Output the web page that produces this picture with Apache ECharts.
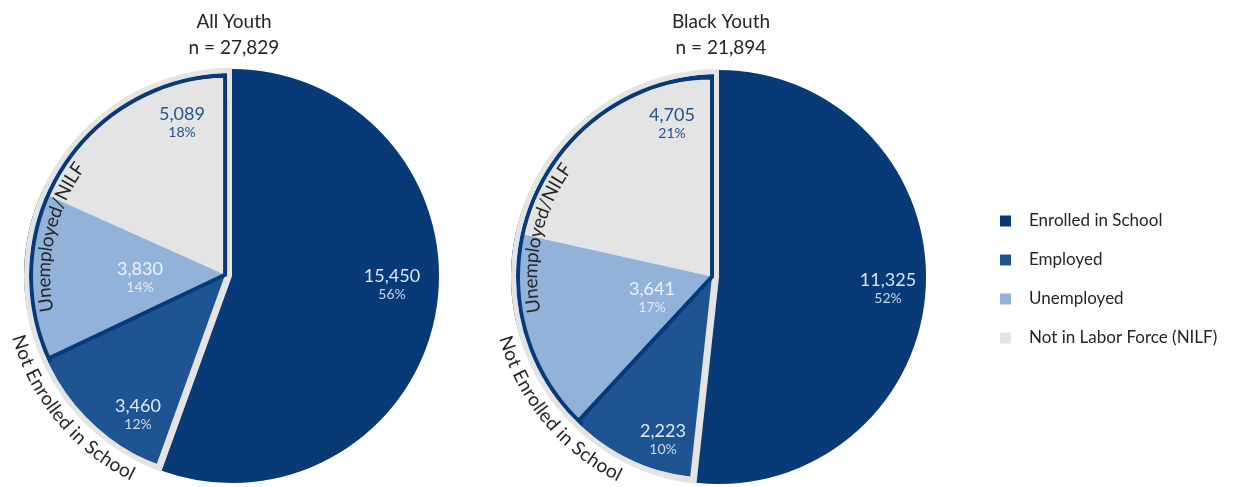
<!DOCTYPE html>
<html>
<head>
<meta charset="utf-8">
<script src="https://cdn.jsdelivr.net/npm/echarts@6/dist/echarts.min.js"></script>
<style>
  html, body { margin: 0; padding: 0; background: #ffffff; }
  #chart { width: 1250px; height: 487px; }
</style>
</head>
<body>
<div id="chart"></div>
<script>
// Youth by school enrolment and labour-force status
const categories = ['Enrolled in School', 'Employed', 'Unemployed', 'Not in Labor Force (NILF)'];
const panelTitles = ['All Youth', 'Black Youth'];
const allYouth = [15450, 3460, 3830, 5089];
const blackYouth = [11325, 2223, 3641, 4705];
const innerGroupLabel = 'Unemployed/NILF';
const outerGroupLabel = 'Not Enrolled in School';

// styling
const FONT = 'Lato, "Open Sans", sans-serif';
const COLORS = ['#083a78', '#1e5491', '#93b2d9', '#e4e4e4'];
const GROUP_BORDER = '#083a78';
const RING = '#e4e4e4';
const TEXT = '#262626';
const LABEL_COLORS = [
  ['#dde4ef', '#c9d4e5'],
  ['#e2e8f1', '#d0d9e8'],
  ['#eef2f8', '#e3e9f3'],
  ['#24538f', '#24538f']
];

// geometry of each pie
const R = 207;          // radius of the enrolled slice
const RING_W = 5;       // light ring around the not-enrolled group
const BORDER_W = 4;     // dark outline of the unemployed/NILF group
const INSET = 7;        // how far the not-enrolled pieces sit inside their wedge

const panels = [
  { title: panelTitles[0], values: allYouth, center: [232, 276],
    labelAt: [[160, 8], [-94, 138], [-92, 1.5], [-50, -153.5]] },
  { title: panelTitles[1], values: blackYouth, center: [719, 277],
    labelAt: [[169, 11.5], [-56, 162.5], [-67, 20.5], [-47, -154]] }
];

const fmt = v => v.toLocaleString('en-US');
const clear = v => ({ value: v, name: '', itemStyle: { color: 'rgba(0,0,0,0)', borderWidth: 0 }, label: { show: false } });

function sliceLabel(i) {
  return {
    show: true,
    position: 'inside',
    formatter: p => `{v|${fmt(p.value)}}\n{p|${Math.round(p.percent)}%}`,
    rich: {
      v: { fontFamily: FONT, fontSize: 18, lineHeight: 20, color: LABEL_COLORS[i][0], align: 'center' },
      p: { fontFamily: FONT, fontSize: 14, lineHeight: 16, color: LABEL_COLORS[i][1], align: 'center' }
    }
  };
}

function pieBase(extra) {
  return Object.assign({
    type: 'pie', silent: true, animation: false,
    startAngle: 90, clockwise: true, avoidLabelOverlap: false,
    label: { show: false }, labelLine: { show: false },
    emphasis: { disabled: true },
    itemStyle: { borderWidth: 0 }
  }, extra);
}

function panelSeries(p) {
  const [E, Em, U, N] = p.values;
  const T = E + Em + U + N;
  const G = T - E;
  const [cx, cy] = p.center;
  const Rg = R + 1;
  // direction of the middle of the not-enrolled wedge
  const mid = (90 + 180 * G / T) * Math.PI / 180;
  const inner = [cx + INSET * Math.cos(mid), cy - INSET * Math.sin(mid)];
  const layoutAt = params => {
    const off = p.labelAt[params.dataIndex];
    return { x: cx + off[0], y: cy + off[1], align: 'center', verticalAlign: 'middle' };
  };

  return [
    // light backdrop of the not-enrolled wedge
    pieBase({ z: 1, center: [cx, cy], radius: Rg,
      data: [clear(E), { value: G, name: '', itemStyle: { color: RING } }] }),
    // employed / unemployed / NILF pieces
    pieBase({ z: 2, center: inner, radius: Rg - INSET,
      labelLayout: layoutAt,
      data: [
        clear(E),
        { value: Em, name: categories[1], itemStyle: { color: COLORS[1] }, label: sliceLabel(1) },
        { value: U, name: categories[2], itemStyle: { color: COLORS[2] }, label: sliceLabel(2) },
        { value: N, name: categories[3], itemStyle: { color: COLORS[3] }, label: sliceLabel(3) }
      ] }),
    // outline of the unemployed + NILF group (straight edges)
    pieBase({ z: 3, center: inner, radius: Rg - INSET - 2,
      data: [clear(E), clear(Em),
        { value: U + N, name: '', itemStyle: { color: 'rgba(0,0,0,0)', borderColor: GROUP_BORDER, borderWidth: BORDER_W, borderJoin: 'miter' } }] }),
    // outline of the unemployed + NILF group (curved edge)
    pieBase({ z: 4, center: [cx, cy], radius: [Rg - RING_W - BORDER_W, Rg - RING_W],
      data: [clear(E), clear(Em), { value: U + N, name: '', itemStyle: { color: GROUP_BORDER } }] }),
    // light ring around the not-enrolled wedge
    pieBase({ z: 5, center: [cx, cy], radius: [Rg - RING_W, Rg],
      data: [clear(E), { value: G, name: '', itemStyle: { color: RING } }] }),
    // light gap along the straight edges of the enrolled slice
    pieBase({ z: 6, center: [cx, cy], radius: [R - 27, R - 5],
      data: [
        { value: E, name: '', itemStyle: { color: 'rgba(0,0,0,0)', borderColor: RING, borderWidth: 2 * (INSET - 2), borderJoin: 'miter' } },
        clear(G)
      ] }),
    // enrolled slice
    pieBase({ z: 7, center: [cx, cy], radius: R,
      labelLayout: layoutAt,
      data: [
        { value: E, name: categories[0], itemStyle: { color: COLORS[0] }, label: sliceLabel(0) },
        clear(G)
      ] })
  ];
}

// text laid along a circle around a pie centre
const measureCtx = document.createElement('canvas').getContext('2d');
function arcText(text, cx, cy, r, startDeg, outward, fontSize) {
  const font = `${fontSize}px ${FONT}`;
  measureCtx.font = font;
  const dir = outward ? -1 : 1;
  let run = 0;
  const out = [];
  for (const ch of text) {
    const w = measureCtx.measureText(ch).width;
    const ang = startDeg * Math.PI / 180 + dir * (run + w / 2) / r;
    run += w;
    out.push({
      type: 'text', z: 20, silent: true,
      x: cx + r * Math.cos(ang), y: cy - r * Math.sin(ang),
      rotation: outward ? ang - Math.PI / 2 : ang + Math.PI / 2,
      style: { text: ch, font, fill: TEXT, align: 'center', verticalAlign: 'middle' }
    });
  }
  return out;
}

const graphics = [];
panels.forEach(p => {
  const [cx, cy] = p.center;
  const total = p.values.reduce((a, b) => a + b, 0);
  graphics.push(
    { type: 'text', z: 20, silent: true, x: cx + 2, y: 22,
      style: { text: p.title, font: `19px ${FONT}`, fill: TEXT, align: 'center', verticalAlign: 'middle' } },
    { type: 'text', z: 20, silent: true, x: cx + 2, y: 48,
      style: { text: `n = ${fmt(total)}`, font: `19px ${FONT}`, fill: TEXT, align: 'center', verticalAlign: 'middle' } }
  );
  graphics.push(...arcText(innerGroupLabel, cx, cy, 188, 191, true, 19));
  graphics.push(...arcText(outerGroupLabel, cx, cy, 222, 195.5, false, 19));
});

const chart = echarts.init(document.getElementById('chart'), null, { renderer: 'canvas' });
chart.setOption({
  backgroundColor: '#ffffff',
  animation: false,
  legend: {
    data: categories,
    orient: 'vertical',
    left: 995,
    top: 206,
    icon: 'rect',
    itemWidth: 11,
    itemHeight: 11,
    itemGap: 19,
    selectedMode: false,
    textStyle: { fontFamily: FONT, fontSize: 17, color: TEXT, lineHeight: 20, padding: [0, 0, 0, 13] }
  },
  series: panels.flatMap(panelSeries),
  graphic: graphics
});
</script>
</body>
</html>
